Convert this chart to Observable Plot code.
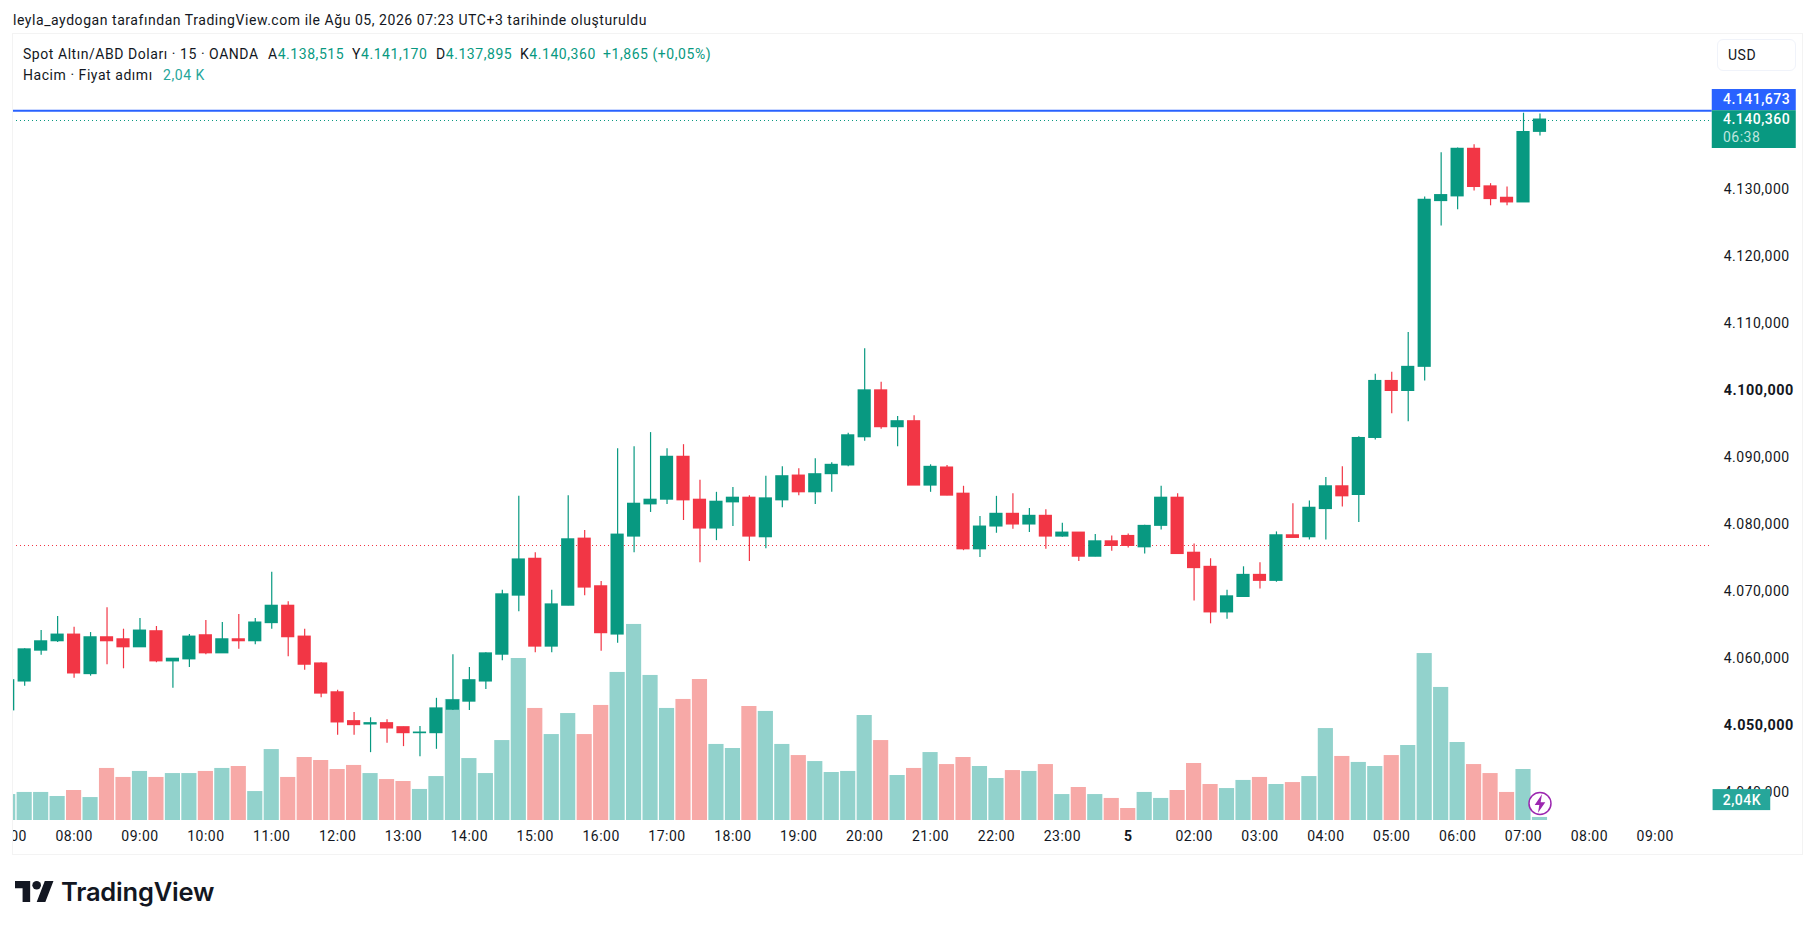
<!DOCTYPE html>
<html><head><meta charset="utf-8">
<script src="https://cdn.jsdelivr.net/npm/d3@7"></script>
<script src="https://cdn.jsdelivr.net/npm/@observablehq/plot@0.6"></script>
<style>
html,body{margin:0;padding:0;background:#fff;width:1815px;height:930px;overflow:hidden;font-family:Roboto,sans-serif;color:#131722}
.t{position:absolute;white-space:nowrap;font-size:14px;line-height:18px;letter-spacing:.55px}
.g{color:#089981}.v{color:#26A69A}
#frame{position:absolute;left:12px;top:33px;width:1788.5px;height:819.5px;border:1.5px solid #f3f3f3}
#pane{position:absolute;left:13px;top:35px;width:1787px;height:819px;overflow:hidden}
#pane svg{position:absolute;left:-13px;top:-35px;background:transparent;max-width:none!important;width:1815px;height:930px}
#pane svg text{letter-spacing:.5px}
#usd{position:absolute;left:1717px;top:39px;width:79px;height:32px;border:1.5px solid #f0f3fa;border-radius:6px;box-sizing:border-box;font-size:14px;line-height:30px;padding-left:10px;letter-spacing:.5px}
#logo{position:absolute;left:15px;top:881px;width:39px;height:21px;fill:#131722}
#brand{position:absolute;left:61px;top:877px;font:600 25.5px/30px Inter,sans-serif;letter-spacing:-.2px}
</style></head><body>
<div class="t" style="left:13px;top:11px">leyla_aydogan tarafından TradingView.com ile Ağu 05, 2026 07:23 UTC+3 tarihinde oluşturuldu</div>
<div id="frame"></div>
<div id="pane"></div>
<div class="t" style="left:23px;top:45px">Spot Altın/ABD Doları · 15 · OANDA</div>
<div class="t" style="left:268px;top:45px">A<span class="g">4.138,515</span></div>
<div class="t" style="left:352px;top:45px">Y<span class="g">4.141,170</span></div>
<div class="t" style="left:436px;top:45px">D<span class="g">4.137,895</span></div>
<div class="t" style="left:520px;top:45px">K<span class="g">4.140,360</span></div>
<div class="t g" style="left:603px;top:45px">+1,865 (+0,05%)</div>
<div class="t" style="left:23px;top:66px">Hacim · Fiyat adımı</div>
<div class="t v" style="left:163px;top:66px">2,04 K</div>
<div id="usd">USD</div>
<svg id="logo" viewBox="0 0 36 20" preserveAspectRatio="none"><path d="M14 20H7V7H0V0h14v20zM28 20h-8l7.5-20h8L28 20z"/><circle cx="20" cy="4" r="4"/></svg>
<div id="brand">TradingView</div>
<script>
const opens=[4052.3,4056.6,4061.2,4062.6,4063.6,4057.7,4063.2,4062.9,4061.7,4064.1,4059.6,4059.9,4063.5,4060.8,4062.9,4062.6,4065.3,4067.9,4063.3,4059.3,4055.0,4050.7,4050.2,4050.4,4049.8,4048.9,4048.9,4052.4,4053.6,4056.6,4060.6,4069.4,4074.9,4061.8,4067.9,4077.9,4070.8,4063.6,4078.2,4083.0,4083.7,4090.1,4083.7,4079.4,4083.3,4084.0,4078.1,4083.6,4087.3,4084.8,4087.5,4088.8,4093.0,4100.0,4094.5,4095.4,4085.8,4088.5,4084.6,4076.3,4079.7,4081.6,4080.0,4081.3,4078.2,4078.8,4075.2,4077.5,4078.3,4076.6,4079.8,4084.0,4075.8,4073.7,4066.9,4069.2,4072.5,4071.6,4078.4,4078.1,4082.3,4085.7,4084.4,4092.9,4101.4,4099.9,4103.5,4128.2,4128.9,4136.0,4130.4,4128.7,4128.0,4138.515];
const closes=[4056.8,4061.4,4062.6,4063.6,4057.8,4063.2,4062.6,4061.7,4064.2,4059.6,4060.0,4063.3,4060.8,4062.9,4062.6,4065.4,4067.9,4063.2,4059.1,4054.8,4050.5,4050.1,4050.4,4049.6,4048.9,4049.0,4052.6,4053.8,4056.8,4060.8,4069.6,4074.8,4061.8,4068.1,4077.8,4070.6,4063.8,4078.5,4083.1,4083.7,4090.1,4083.6,4079.4,4083.4,4084.0,4078.2,4083.9,4087.2,4084.8,4087.5,4088.9,4093.3,4100.0,4094.5,4095.4,4085.8,4088.6,4084.3,4076.3,4079.7,4081.6,4080.0,4081.3,4078.2,4078.8,4075.2,4077.5,4076.8,4076.8,4079.8,4084.0,4075.6,4073.5,4066.9,4069.3,4072.5,4071.6,4078.4,4078.0,4082.5,4085.7,4084.2,4092.9,4101.4,4099.9,4103.5,4128.4,4129.1,4136.0,4130.3,4128.5,4128.0,4138.5,4140.36];
const highs=[4056.8,4061.5,4064.2,4066.3,4064.7,4063.9,4067.6,4064.4,4066.0,4064.8,4060.0,4063.6,4065.7,4065.4,4066.6,4066.0,4072.9,4068.5,4064.4,4059.4,4055.3,4052.0,4051.2,4050.9,4049.8,4049.9,4054.1,4060.6,4058.7,4060.9,4070.2,4084.2,4075.8,4070.2,4084.3,4079.1,4071.5,4091.3,4091.6,4093.7,4091.3,4091.9,4086.6,4084.8,4085.5,4084.3,4087.2,4088.6,4088.3,4089.8,4089.2,4093.6,4106.2,4101.2,4096.1,4096.2,4088.9,4088.8,4085.7,4081.2,4084.2,4084.6,4082.4,4082.2,4080.2,4078.8,4078.5,4078.3,4078.6,4079.9,4085.7,4084.6,4077.1,4074.9,4070.2,4073.7,4074.3,4078.9,4083.1,4083.5,4087.0,4088.6,4093.1,4102.4,4102.7,4108.6,4128.8,4135.4,4136.1,4136.6,4130.8,4130.3,4141.3,4141.17];
const lows=[4052.3,4055.9,4060.5,4062.4,4057.1,4057.4,4059.1,4058.5,4061.7,4059.4,4055.6,4058.7,4060.6,4060.8,4061.4,4062.1,4064.4,4060.3,4058.3,4054.2,4048.6,4048.6,4046.0,4047.4,4046.9,4045.4,4046.5,4052.3,4052.3,4055.4,4059.7,4067.0,4060.9,4060.9,4067.9,4069.4,4061.1,4062.3,4075.8,4081.8,4083.0,4080.6,4074.3,4077.6,4079.7,4074.5,4076.4,4082.5,4084.3,4083.0,4084.8,4088.6,4092.4,4094.2,4091.6,4085.8,4084.8,4084.3,4076.1,4075.1,4078.7,4079.3,4078.8,4076.3,4078.1,4074.5,4075.2,4076.0,4076.5,4075.6,4079.2,4075.6,4068.6,4065.2,4065.9,4069.2,4070.4,4071.4,4078.0,4077.7,4077.7,4082.6,4080.3,4092.6,4096.5,4095.3,4101.4,4124.5,4126.9,4129.7,4127.5,4127.5,4128.0,4137.895];
const volumes=[17.3,18.7,18.7,16,20,15.3,34.7,28.7,32.7,28.7,31.3,31.3,32.7,34.7,36,19.3,47.3,28.7,42,40,34,36.7,31.3,27.3,26,20.7,29.3,80.7,41.3,31.3,53.3,108,74.7,57.3,71.3,57.3,76.7,98.7,130.7,96.7,74.7,80.7,94,50.7,48,76,72.7,50.7,43.3,39.3,32,32.7,70,53.3,30,34.7,45.3,37.3,42,36,28,33.3,32.7,37.3,17.3,22,17.3,14.7,8,18.7,14.7,20,38,24,21.3,26.7,28.7,24,25.3,29.3,61.3,42.7,38.7,36,43.3,50,111.3,88.7,52,37.3,31.3,18.7,34,2.04];
const hourTicks=[0,4,8,12,16,20,24,28,32,36,40,44,48,52,56,60,64,72,76,80,84,88,92,96,100];
const hourLabels=["07:00","08:00","09:00","10:00","11:00","12:00","13:00","14:00","15:00","16:00","17:00","18:00","19:00","20:00","21:00","22:00","23:00","02:00","03:00","04:00","05:00","06:00","07:00","08:00","09:00"];
const dayTick=[68], dayLabel="5";
const priceTicks=[4130,4120,4110,4090,4080,4070,4060,4040];
const boldPriceTicks=[4100,4050];
const lastClose=4140.36, highLine=4141.673, prevClose=4076.9;

const TEAL="#089981",RED="#F23645",VT="#92D2CC",VR="#F7A9A7",BLUE="#2962FF",INK="#131722",FONT="Roboto, sans-serif";
const candles=opens.map((o,i)=>({i,o,c:closes[i],h:highs[i],l:lows[i],v:volumes[i],bear:o>closes[i]}));
const fmt=d3.formatLocale({decimal:",",thousands:".",grouping:[3],currency:["",""]}).format(",.3f");
const xScale={axis:null,domain:[-0.468,109.728],range:[0,1815]};
const priceY={axis:null,domain:[4035.89,4153.03],range:[820,34]};
const volY={axis:null,domain:[0,150],range:[820,595]};
const base={width:1815,height:930,margin:0,style:{background:"transparent",overflow:"visible"}};
const paneEnd=103.46,tagEnd=108.56,tagText=104.11;
const pane=document.getElementById("pane");

// price-axis labels sit lowest: the volume tag covers one of them
pane.append(Plot.plot({...base,marginRight:102.3,y:{...priceY,axis:undefined},marks:[
 Plot.axisY(priceTicks,{anchor:"right",tickSize:0,tickPadding:10.5,tickFormat:fmt,fontSize:14,fontFamily:FONT,fill:INK,label:null}),
 Plot.axisY(boldPriceTicks,{anchor:"right",tickSize:0,tickPadding:10.5,tickFormat:fmt,fontSize:14.4,fontFamily:FONT,fontWeight:"bold",fill:INK,label:null})
]}));

const boltSymbol={draw(c,size){const s=Math.sqrt(size)/10;[[1.5,-7],[-4,1],[-.5,1],[-1.5,7],[4,-1],[.5,-1]].forEach(([x,y],k)=>k?c.lineTo(x*s,y*s):c.moveTo(x*s,y*s));c.closePath();}};
const last=candles[candles.length-1];
pane.append(Plot.plot({...base,marginBottom:110,x:{...xScale,axis:undefined},y:volY,marks:[
 Plot.rectY(candles,{x1:d=>d.i-.46,x2:d=>d.i+.46,y1:0,y2:"v",fill:d=>d.bear?VR:VT}),
 Plot.axisX(hourTicks,{anchor:"bottom",tickSize:0,tickPadding:11,tickFormat:d=>hourLabels[hourTicks.indexOf(d)],fontSize:14,fontFamily:FONT,fill:INK,label:null}),
 Plot.axisX(dayTick,{anchor:"bottom",tickSize:0,tickPadding:11,tickFormat:()=>dayLabel,fontSize:14,fontFamily:FONT,fontWeight:"bold",fill:INK,label:null}),
 Plot.dot([last],{x:"i",y:()=>11.3,r:11,fill:"#fff",stroke:"#9C27B0",strokeWidth:1.5}),
 Plot.dot([last],{x:"i",y:()=>11.3,symbol:boltSymbol,r:7.5,fill:"#9C27B0",stroke:"none"}),
 Plot.rect([last],{x1:()=>103.51,x2:()=>107.01,y1:()=>6.6,y2:()=>20.6,fill:"#26A69A"}),
 Plot.text([last],{x:()=>105.26,y:()=>13.6,text:()=>"2,04K",fill:"#fff",fontSize:14,fontFamily:FONT,fontWeight:500})
]}));

pane.append(Plot.plot({...base,x:xScale,y:priceY,marks:[
 Plot.ruleY([prevClose],{x1:0,x2:paneEnd,stroke:RED,strokeWidth:1,strokeDasharray:"1 3",shapeRendering:"crispEdges"}),
 Plot.ruleY([lastClose],{x1:0,x2:paneEnd,stroke:TEAL,strokeWidth:1,strokeDasharray:"1 3",shapeRendering:"crispEdges",dy:.5}),
 Plot.ruleY([highLine],{x1:0,x2:paneEnd,stroke:BLUE,strokeWidth:2}),
 Plot.ruleX(candles,{x:"i",y1:"l",y2:"h",stroke:d=>d.bear?RED:TEAL,strokeWidth:1.2}),
 Plot.rect(candles,{x1:d=>d.i-.4,x2:d=>d.i+.4,y1:d=>Math.min(d.o,d.c),y2:d=>Math.max(d.o,d.c),fill:d=>d.bear?RED:TEAL,insetBottom:-.5,insetTop:-.5}),
 Plot.rect([highLine],{x1:paneEnd,x2:tagEnd,y1:highLine,y2:4144.83,fill:BLUE}),
 Plot.rect([lastClose],{x1:paneEnd,x2:tagEnd,y1:4136.04,y2:highLine,fill:TEAL}),
 Plot.text([highLine],{x:tagText,y:4143.4,text:d=>fmt(d),textAnchor:"start",fill:"#fff",fontSize:14,fontFamily:FONT,fontWeight:500}),
 Plot.text([lastClose],{x:tagText,y:4140.3,text:d=>fmt(d),textAnchor:"start",fill:"#fff",fontSize:14,fontFamily:FONT,fontWeight:500}),
 Plot.text(["06:38"],{x:tagText,y:4137.7,text:d=>d,textAnchor:"start",fill:"#bfe6df",fontSize:14,fontFamily:FONT})
]}));
</script>
</body></html>
